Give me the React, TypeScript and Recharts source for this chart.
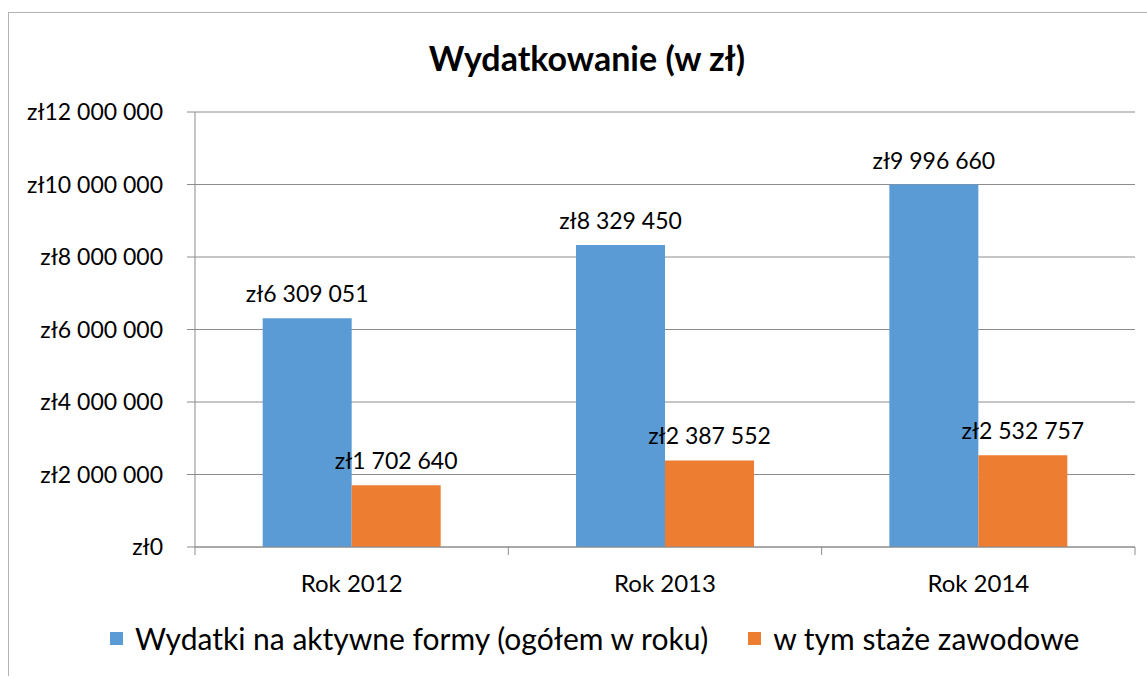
import { BarChart, Bar, XAxis, YAxis, CartesianGrid, Legend, LabelList } from 'recharts'

const YEARS = ['Rok 2012', 'Rok 2013', 'Rok 2014']
const TOTAL_SPENDING = [6309051, 8329450, 9996660]
const INTERNSHIPS = [1702640, 2387552, 2532757]
const Y_TICKS = [0, 2000000, 4000000, 6000000, 8000000, 10000000, 12000000]

const BLUE = '#5B9BD5'
const ORANGE = '#ED7D31'
const LINE = '#8c8c8c'
const FONT = 'Lato, "Open Sans", sans-serif'

const data = YEARS.map((year, i) => ({
  year,
  total: TOTAL_SPENDING[i],
  internships: INTERNSHIPS[i],
}))

const zl = (v: number) => 'zł' + String(v).replace(/\B(?=(\d{3})+(?!\d))/g, ' ')

// category-boundary tick marks like Excel, label centred in the band
function YearTick({ x, y, payload, index, visibleTicksCount }: any) {
  const half = payload.offset ?? 0
  return (
    <g>
      <line x1={x - half} x2={x - half} y1={y} y2={y + 8} stroke={LINE} />
      {index === visibleTicksCount - 1 && <line x1={x + half} x2={x + half} y1={y} y2={y + 8} stroke={LINE} />}
      <text x={x} y={y + 35} textAnchor="middle" dominantBaseline="central" fontSize={24} fontFamily={FONT} fill="#000">
        {payload.value}
      </text>
    </g>
  )
}

function LegendRow({ payload }: any) {
  return (
    <div style={{ display: 'flex', alignItems: 'center', paddingLeft: 101, paddingTop: 28, fontFamily: FONT, fontSize: 30, color: '#000' }}>
      {(payload || []).map((e: any, i: number) => (
        <div key={i} style={{ display: 'flex', alignItems: 'center', marginRight: 40 }}>
          <span style={{ width: 13, height: 13, background: e.color, marginRight: 12, display: 'inline-block' }} />
          <span>{e.value}</span>
        </div>
      ))}
    </div>
  )
}

export default function App() {
  return (
    <div style={{ position: 'absolute', left: 8, top: 12, width: 1139, height: 664, borderTop: '1px solid #b3b3b3', borderLeft: '1px solid #b3b3b3', boxSizing: 'border-box', background: '#fff' }}>
      <div style={{ position: 'absolute', left: 18, width: 1120, top: 23, textAlign: 'center', fontFamily: FONT, fontWeight: 700, fontSize: 34, lineHeight: '44px', color: '#000' }}>
        Wydatkowanie (w zł)
      </div>
      <BarChart
        width={1138}
        height={663}
        data={data}
        margin={{ top: 99, right: 12, left: 0, bottom: 10 }}
        barCategoryGap="21.6%"
        barGap={0}
      >
        <CartesianGrid vertical={false} stroke={LINE} />
        <XAxis
          dataKey="year"
          height={45}
          axisLine={{ stroke: LINE }}
          tickLine={false}
          tickSize={0}
          tickMargin={0}
          tick={<YearTick />}
        />
        <YAxis
          width={186}
          domain={[0, 12000000]}
          ticks={Y_TICKS}
          tickFormatter={zl}
          axisLine={{ stroke: LINE }}
          tickLine={{ stroke: LINE }}
          tickSize={8}
          tickMargin={24}
          tick={{ fill: '#000', fontSize: 23, fontFamily: FONT }}
        />
        <Legend verticalAlign="bottom" height={74} content={<LegendRow />} />
        <Bar dataKey="total" name="Wydatki na aktywne formy (ogółem w roku)" fill={BLUE} isAnimationActive={false}>
          <LabelList dataKey="total" position="top" offset={16} formatter={zl} fill="#000" fontSize={23} fontFamily={FONT} />
        </Bar>
        <Bar dataKey="internships" name="w tym staże zawodowe" fill={ORANGE} isAnimationActive={false}>
          <LabelList dataKey="internships" position="top" offset={16} formatter={zl} fill="#000" fontSize={23} fontFamily={FONT} />
        </Bar>
      </BarChart>
    </div>
  )
}
